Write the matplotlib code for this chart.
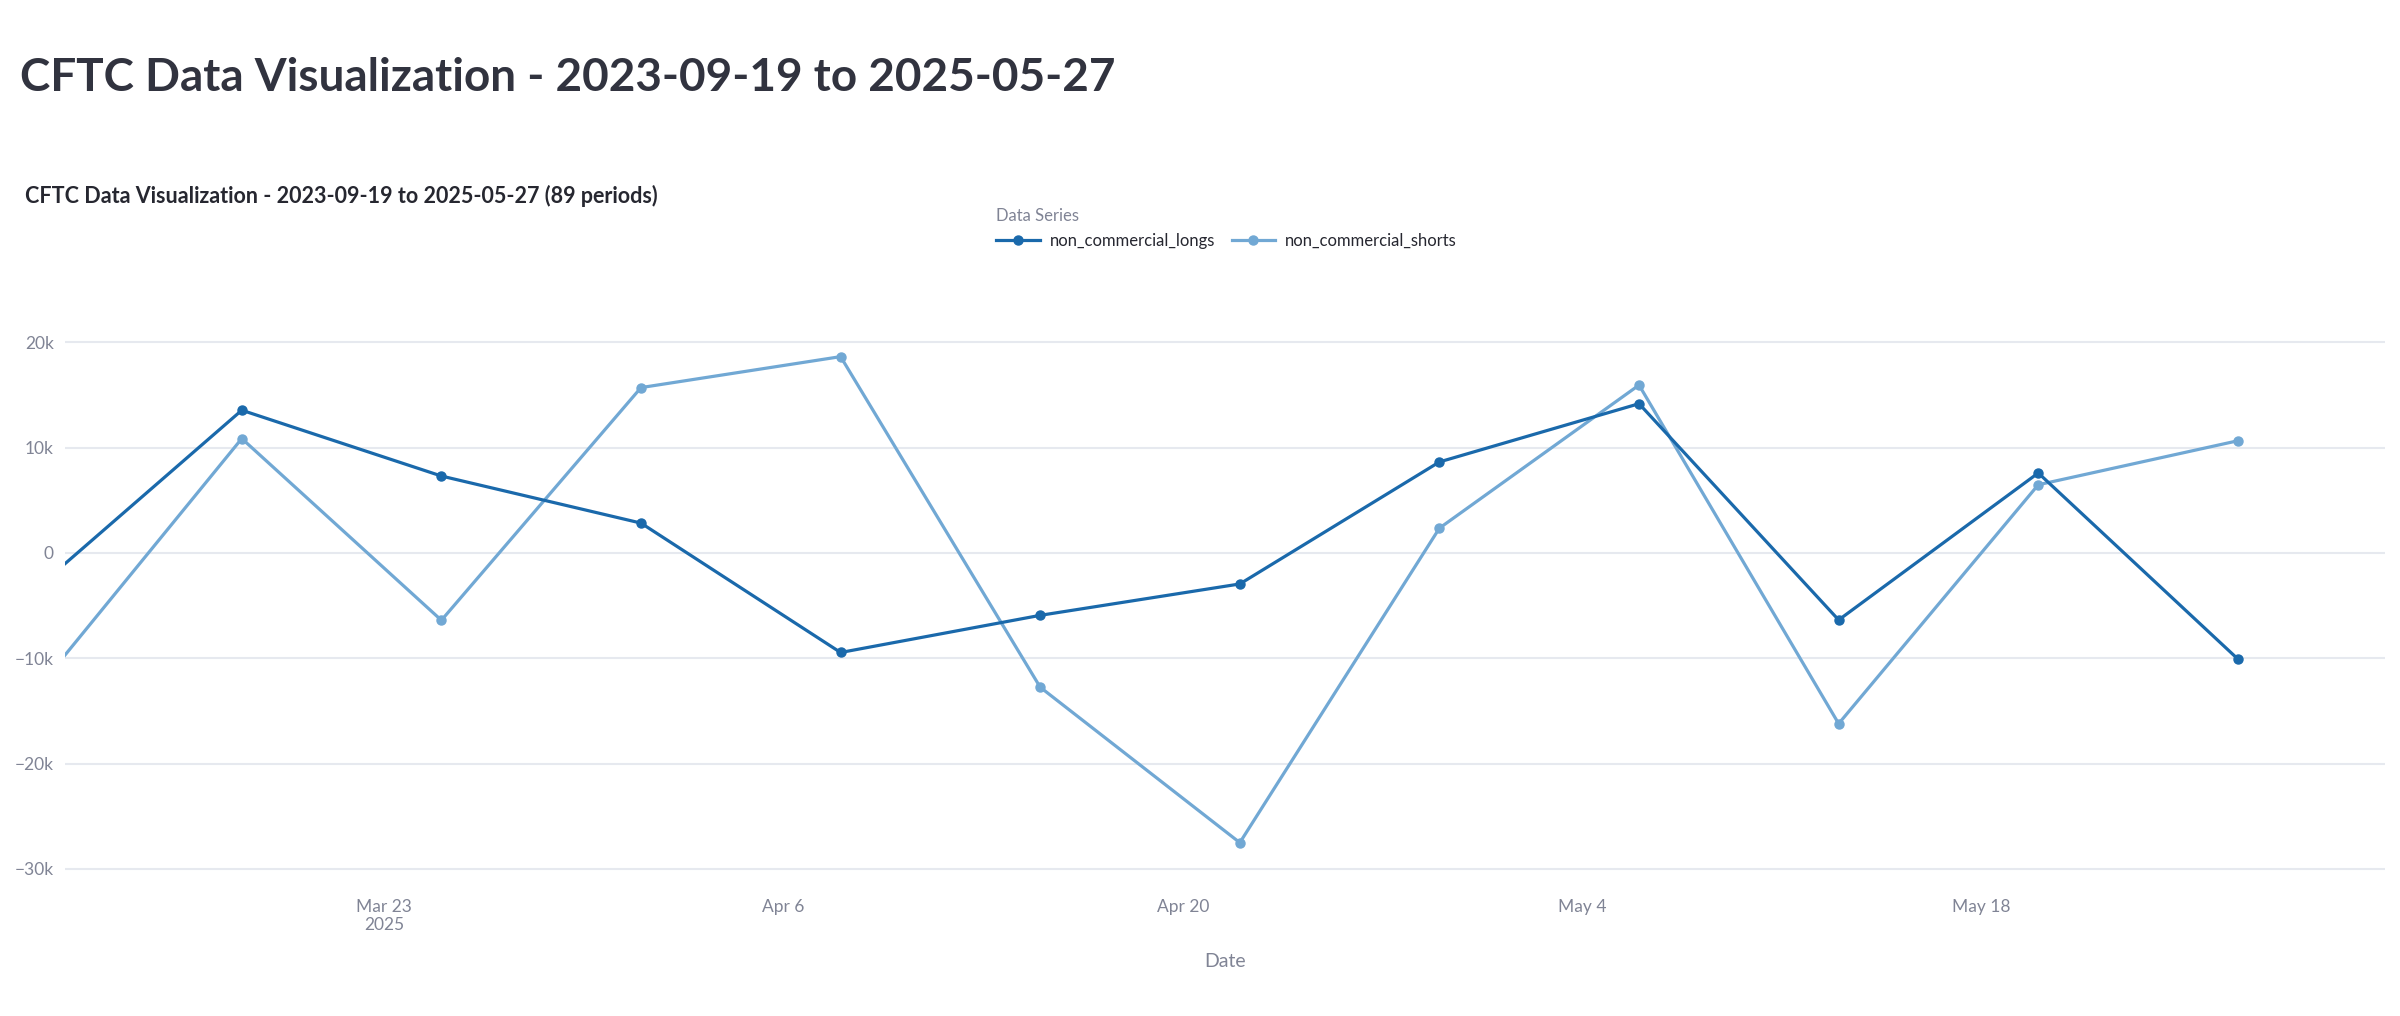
import numpy as np
import matplotlib.pyplot as plt
import matplotlib.dates as mdates
from matplotlib.ticker import FuncFormatter
import datetime as dt

# weekly report dates (visible window of the 89 periods)
dates = ['2025-03-11', '2025-03-18', '2025-03-25', '2025-04-01', '2025-04-08', '2025-04-15',
         '2025-04-22', '2025-04-29', '2025-05-06', '2025-05-13', '2025-05-20', '2025-05-27']
non_commercial_longs = [-2900, 13560, 7310, 2840, -9450, -5920, -2940, 8650, 14180, -6360, 7600, -10070]
non_commercial_shorts = [-12350, 10870, -6390, 15710, 18650, -12750, -27510, 2360, 15950, -16210, 6480, 10660]

tick_dates = ['2025-03-23', '2025-04-06', '2025-04-20', '2025-05-04', '2025-05-18']
tick_labels = ['Mar 23\n2025', 'Apr 6', 'Apr 20', 'May 4', 'May 18']
y_ticks = [-30000, -20000, -10000, 0, 10000, 20000]

###############################################################################################################

plt.rcParams['font.family'] = ['Lato', 'DejaVu Sans']

x = [dt.datetime.strptime(d, '%Y-%m-%d') for d in dates]
xt = [dt.datetime.strptime(d, '%Y-%m-%d') for d in tick_dates]

fig = plt.figure(figsize=(24, 10.16), dpi=100)
ax = fig.add_axes([65/2400, 1 - 879.4/1016, 2320/2400, 579.1/1016])

c_long = '#1a69ab'
c_short = '#71a8d4'
ax.plot(x, non_commercial_longs, '-o', color=c_long, lw=2.3, ms=6.5, label='non_commercial_longs', zorder=4)
ax.plot(x, non_commercial_shorts, '-o', color=c_short, lw=2.3, ms=6.5, label='non_commercial_shorts', zorder=3)

ax.set_xlim(x[0] + dt.timedelta(days=0.8), x[-1] + dt.timedelta(days=5.16))
ax.set_ylim(-31000, 24000)

ax.set_yticks(y_ticks)
ax.yaxis.set_major_formatter(FuncFormatter(lambda v, p: '0' if v == 0 else ('\u2212' if v < 0 else '') + '%dk' % abs(v / 1000)))
ax.set_xticks(xt)
ax.set_xticklabels(tick_labels)

ax.grid(axis='y', color='#e6e9ef', lw=1.5)
ax.set_axisbelow(True)
for s in ax.spines.values():
    s.set_visible(False)
ax.tick_params(length=0, colors='#808495', labelsize=12.5)
ax.tick_params(axis='y', pad=8)
ax.tick_params(axis='x', pad=14)
ax.set_xlabel('Date', color='#808495', fontsize=14, labelpad=14)

fig.text(20/2400, 1 - 78/1016, 'CFTC Data Visualization - 2023-09-19 to 2025-05-27',
         fontsize=33, fontweight='bold', color='#31333f', va='center', ha='left')
fig.text(25/2400, 1 - 196/1016, 'CFTC Data Visualization - 2023-09-19 to 2025-05-27 (89 periods)',
         fontsize=15.5, fontweight='bold', color='#262730', va='center', ha='left')

leg = fig.legend(loc='upper left', bbox_to_anchor=(988/2400, 1 - 200/1016), ncol=2, frameon=False,
                 title='Data Series', alignment='left', fontsize=12, title_fontsize=12,
                 borderpad=0, handlelength=2.6, handletextpad=0.6, columnspacing=1.0)
leg.get_title().set_color('#808495')
for t in leg.get_texts():
    t.set_color('#262730')

plt.savefig('out.png')
